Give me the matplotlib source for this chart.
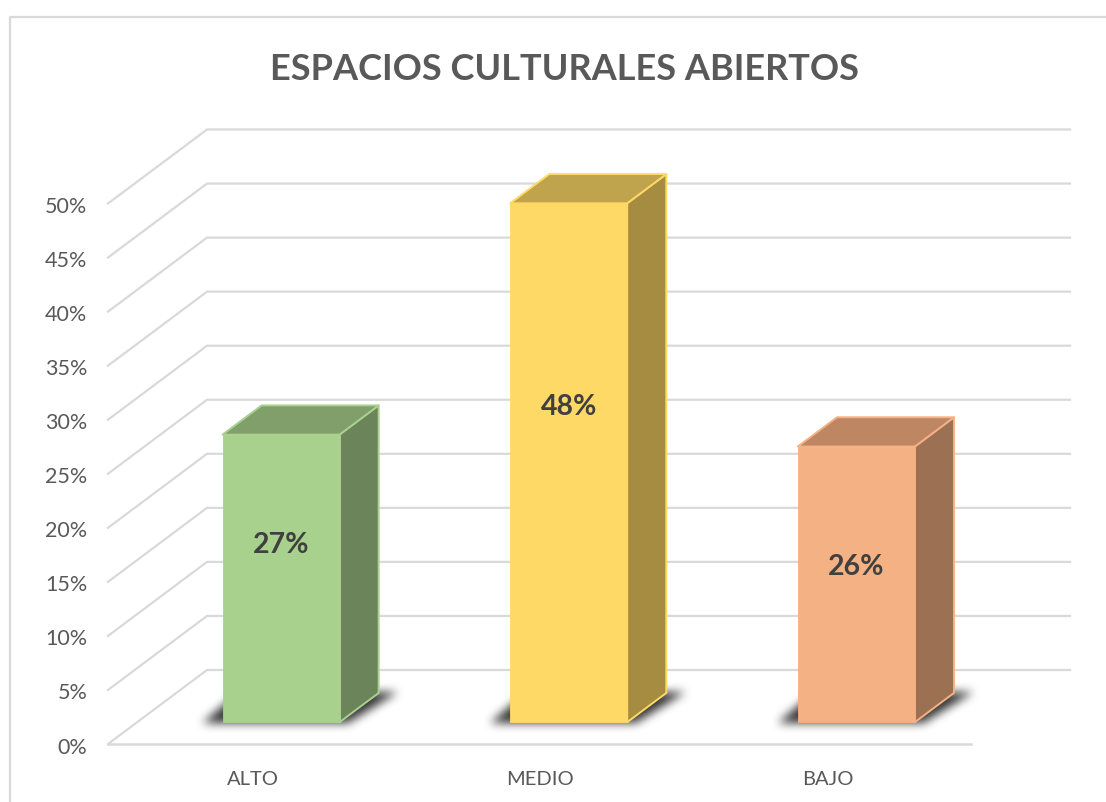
import numpy as np
import matplotlib
matplotlib.use("Agg")
import matplotlib.pyplot as plt
from matplotlib.path import Path
from matplotlib.patches import Polygon
from matplotlib.transforms import Affine2D, IdentityTransform

categories = ["ALTO", "MEDIO", "BAJO"]
values = [26.6, 48.0, 25.5]
value_labels = ["27%", "48%", "26%"]
y_ticks = [0, 5, 10, 15, 20, 25, 30, 35, 40, 45, 50]

# label height as a share of the bar, the labels are not centered in the original
label_share = [0.615, 0.608, 0.562]
front_colors = ["#A9D18E", "#FFD966", "#F4B183"]
side_colors = ["#6B8459", "#A58C40", "#9C7153"]
top_colors = ["#809F6B", "#BFA34D", "#BF8663"]

W, H = 1106, 802
DPI = 100
# how far the back wall sits from the front plane, in pixels
DEPTH_X, DEPTH_Y = 99, 74
BAR_WIDTH = 117 / 287.67
BAR_FRONT, BAR_BACK = 0.295, 0.69
GRID = "#D9D9D9"
TEXT = "#595959"

plt.rcParams["font.family"] = ["Lato", "DejaVu Sans"]

fig = plt.figure(figsize=(W / DPI, H / DPI), dpi=DPI, facecolor="white")
ax = fig.add_axes([108 / W, (H - 744) / H, (971 - 108) / W, 540.5 / H])
ax.set_facecolor("none")


def to_px(x, y, depth=0.0):
    px = ax.transData.transform((x, y))
    return px[0] + DEPTH_X * depth, px[1] + DEPTH_Y * depth


def face(points, color, edge, zorder, lw=1.4):
    ax.add_patch(Polygon(points, closed=True, transform=IdentityTransform(),
                         facecolor=color, edgecolor=edge, linewidth=lw,
                         joinstyle="round", clip_on=False, zorder=zorder))


def floor_shadow(x):
    # soft shadow under a bar, box blurred a few times
    x0, x1 = x - BAR_WIDTH / 2, x + BAR_WIDTH / 2
    left = to_px(x0, 0, BAR_FRONT)
    right = to_px(x1, 0, BAR_FRONT)
    pts = [(left[0] - 20, left[1] - 1), (right[0] + 8, right[1] - 1),
           (right[0] + 58, right[1] + 30), (left[0] + 16, left[1] + 30)]
    xs = np.arange(int(left[0]) - 50, int(right[0]) + 90)
    ys = np.arange(int(left[1]) - 20, int(left[1]) + 55)
    gx, gy = np.meshgrid(xs + 0.5, ys + 0.5)
    inside = Path(pts).contains_points(np.c_[gx.ravel(), gy.ravel()])
    mask = inside.reshape(gx.shape).astype(float)
    kernel = np.ones(9) / 9
    for _ in range(3):
        mask = np.apply_along_axis(np.convolve, 0, mask, kernel, mode="same")
        mask = np.apply_along_axis(np.convolve, 1, mask, kernel, mode="same")
    rgba = np.zeros(mask.shape + (4,))
    rgba[..., :3] = 0.2
    rgba[..., 3] = mask
    ax.imshow(rgba, origin="lower", extent=(xs[0], xs[-1] + 1, ys[0], ys[-1] + 1),
              transform=IdentityTransform(), zorder=2, clip_on=False,
              interpolation="bilinear", aspect="auto")


ax.set_xlim(-0.5, 2.5)
ax.set_ylim(0, 50)
fig.canvas.draw()

# walls and floor
for tick in y_ticks:
    front = to_px(-0.5, tick)
    back = to_px(-0.5, tick, 1)
    end = to_px(2.5, tick, 1)
    ax.plot([front[0], back[0], end[0]], [front[1], back[1], end[1]],
            transform=IdentityTransform(), color=GRID, linewidth=1.6,
            clip_on=False, zorder=1, solid_joinstyle="miter")
ax.axhline(0, color=GRID, linewidth=1.8, clip_on=False, zorder=1)

xpos = np.arange(len(categories))
for x in xpos:
    floor_shadow(x)

ax.set_xlim(-0.5, 2.5)
ax.set_ylim(0, 50)

for i, x in enumerate(xpos):
    x0, x1 = x - BAR_WIDTH / 2, x + BAR_WIDTH / 2
    v = values[i]
    edge = front_colors[i]
    face([to_px(x1, 0, BAR_FRONT), to_px(x1, 0, BAR_BACK),
          to_px(x1, v, BAR_BACK), to_px(x1, v, BAR_FRONT)],
         side_colors[i], edge, 3)
    face([to_px(x0, v, BAR_FRONT), to_px(x1, v, BAR_FRONT),
          to_px(x1, v, BAR_BACK), to_px(x0, v, BAR_BACK)],
         top_colors[i], edge, 3)
    face([to_px(x0, 0, BAR_FRONT), to_px(x1, 0, BAR_FRONT),
          to_px(x1, v, BAR_FRONT), to_px(x0, v, BAR_FRONT)],
         front_colors[i], edge, 4, lw=0.6)
    lx, ly = to_px(x, v * label_share[i], BAR_FRONT)
    ax.text(lx, ly, value_labels[i], transform=IdentityTransform(), ha="center",
            va="center", fontsize=20.5, fontweight="bold", color="#404040", zorder=5)

for spine in ax.spines.values():
    spine.set_visible(False)
ax.set_xticks(xpos, categories)
ax.set_yticks(y_ticks, [f"{t}%" for t in y_ticks])
ax.tick_params(axis="both", length=0, labelcolor=TEXT)
ax.tick_params(axis="x", pad=19.5, labelsize=14.5)
ax.tick_params(axis="y", pad=15, labelsize=15.5)
# the percent labels sit a little below their lines
for label in ax.get_yticklabels():
    label.set_transform(label.get_transform() + Affine2D().translate(0, -1.5))
for label in ax.get_xticklabels():
    label.set_transform(label.get_transform() + Affine2D().translate(1, 0))

# outer chart border, cut by the image on the right and at the bottom
fig.add_artist(plt.Line2D([10 / W, 10 / W, 1], [0, 1 - 17 / H, 1 - 17 / H],
                          color=GRID, linewidth=1.6))
fig.text(565 / W, 1 - 80 / H, "ESPACIOS CULTURALES ABIERTOS", ha="center", va="baseline",
         fontsize=26, fontweight="bold", color=TEXT)

fig.savefig("out.png", dpi=DPI)
